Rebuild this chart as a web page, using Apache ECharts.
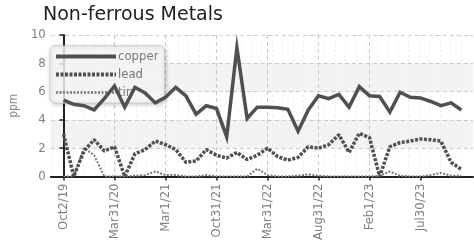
<!DOCTYPE html>
<html>
<head>
<meta charset="utf-8">
<script src="https://cdn.jsdelivr.net/npm/echarts@6/dist/echarts.min.js"></script>
<style>
html,body{margin:0;padding:0;background:#fff;}
#chart{width:474px;height:243px;}
</style>
</head>
<body>
<div id="chart"></div>
<script>
const categories = ['Oct2/19','Nov1/19','Dec1/19','Jan2/20','Feb1/20','Mar31/20','May31/20','Jul31/20','Sep30/20','Dec1/20',
  'Mar1/21','Apr30/21','Jun1/21','Jul31/21','Sep1/21','Oct31/21','Nov30/21','Dec31/21','Jan31/22','Feb28/22',
  'Mar31/22','Apr30/22','May31/22','Jun30/22','Jul31/22','Aug31/22','Sep30/22','Oct31/22','Nov30/22','Dec31/22',
  'Feb1/23','Mar1/23','Apr1/23','May1/23','Jun1/23','Jul30/23','Aug31/23','Sep30/23','Oct31/23','Nov30/23'];
const copper = [5.4,5.1,5.0,4.7,5.5,6.4,4.9,6.3,5.9,5.2,
  5.6,6.3,5.7,4.4,5.0,4.8,2.8,9.1,4.1,4.9,
  4.9,4.85,4.75,3.2,4.7,5.7,5.5,5.8,4.9,6.35,
  5.7,5.65,4.55,5.95,5.6,5.55,5.3,5.0,5.2,4.7];
const lead = [3.0,0.0,1.8,2.6,1.8,2.1,0.0,1.6,1.9,2.5,
  2.25,1.9,1.0,1.1,1.9,1.5,1.3,1.7,1.2,1.5,
  2.0,1.4,1.15,1.35,2.1,2.0,2.25,2.95,1.7,3.05,
  2.75,0.0,2.1,2.4,2.5,2.65,2.6,2.5,1.0,0.5];
const tin = [0,0,2.0,1.5,0,0,0,0.05,0.1,0.35,
  0.1,0.1,0,0,0.1,0,0,0,0,0.55,
  0.1,0,0,0.05,0.15,0.05,0,0,0,0,
  0,0.05,0.35,0.05,0,0,0.1,0.25,0.05,0.05];
const tickLabels = ['Oct2/19','Mar31/20','Mar1/21','Oct31/21','Mar31/22','Aug31/22','Feb1/23','Jul30/23'];
const yTicks = [0,2,4,6,8,10];

const narrow = '"DejaVu Sans Condensed","Liberation Sans Narrow",sans-serif';
const tickIdx = tickLabels.map(t => categories.indexOf(t));
const toPairs = arr => arr.map((v, i) => [i, v]);

const chart = echarts.init(document.getElementById('chart'), null, {renderer: 'canvas'});
chart.setOption({
  animation: false,
  backgroundColor: '#fff',
  title: {
    text: 'Non-ferrous Metals',
    left: 38, top: 1,
    textStyle: {fontFamily: '"DejaVu Sans",sans-serif', fontSize: 19, fontWeight: 'normal', color: '#222'}
  },
  legend: {
    orient: 'vertical',
    left: 50, top: 46,
    itemWidth: 60, itemHeight: 12, itemGap: 5,
    padding: [4, 6, 4, 4],
    backgroundColor: 'rgba(255,255,255,0.8)',
    borderColor: '#ccc', borderWidth: 1, borderRadius: 5,
    shadowBlur: 4, shadowColor: 'rgba(0,0,0,0.25)', shadowOffsetX: 1, shadowOffsetY: 1,
    itemStyle: {opacity: 0},
    textStyle: {fontFamily: narrow, fontSize: 13, color: '#777', padding: [0,0,0,-3]},
    data: [
      {name: 'copper', lineStyle: {width: 4, color: '#505050'}},
      {name: 'lead', lineStyle: {width: 4, color: '#505050', type: [3, 1.5]}},
      {name: 'tin', lineStyle: {width: 2.5, color: '#777', type: [2, 1.5]}}
    ]
  },
  grid: [
    {left: 38.9, right: 1, top: 35, bottom: 63.5, containLabel: false},
    {left: 41.5, right: 2.5, top: 35, bottom: 63.5, containLabel: false}
  ],
  xAxis: [
    {
      type: 'value', gridIndex: 0,
      min: -1.25, max: 40.15, splitNumber: 8,
      axisLine: {show: true, onZero: false, lineStyle: {color: '#222', width: 2}},
      axisTick: {show: true, length: 4, customValues: tickIdx, lineStyle: {color: '#222', width: 1.5}},
      axisLabel: {
        customValues: tickIdx,
        rotate: 90, margin: 7, color: '#808080', fontFamily: narrow, fontSize: 13,
        formatter: v => (Number.isInteger(v) && categories[v] && tickIdx.indexOf(v) >= 0) ? categories[v] : ''
      },
      splitLine: {show: true, showMinLine: false, showMaxLine: false, lineStyle: {color: '#c8c8c8', type: [4, 3], width: 1}}
    },
    {
      type: 'value', gridIndex: 1,
      min: -1, max: 40, interval: 1,
      axisLine: {show: false}, axisTick: {show: false}, axisLabel: {show: false},
      splitLine: {show: true, showMinLine: false, showMaxLine: false, lineStyle: {color: '#ececec', type: [2, 3], width: 1}}
    }
  ],
  yAxis: [
    {
      type: 'value', gridIndex: 0,
      min: 0, max: 10, interval: 2,
      name: 'ppm', nameLocation: 'middle', nameGap: 28, nameRotate: 90,
      nameTextStyle: {color: '#888', fontFamily: narrow, fontSize: 12},
      axisLine: {show: true, lineStyle: {color: '#222', width: 2}},
      axisTick: {show: true, length: 4, lineStyle: {color: '#222', width: 1.5}},
      axisLabel: {margin: 5, color: '#808080', fontFamily: narrow, fontSize: 13},
      splitLine: {show: true, showMinLine: false, lineStyle: {color: '#c8c8c8', type: [4, 3], width: 1}},
      splitArea: {show: true, areaStyle: {color: ['rgba(255,255,255,0)', '#f3f3f3']}}
    },
    {type: 'value', gridIndex: 1, min: 0, max: 10, show: false}
  ],
  series: [
    {
      name: 'copper', type: 'line', xAxisIndex: 0, yAxisIndex: 0,
      data: toPairs(copper), symbol: 'none', z: 4,
      itemStyle: {color: '#505050'},
      lineStyle: {color: '#505050', width: 3.5, join: 'miter'}
    },
    {
      name: 'lead', type: 'line', xAxisIndex: 0, yAxisIndex: 0,
      data: toPairs(lead), symbol: 'none', z: 3,
      itemStyle: {color: '#505050'},
      lineStyle: {color: '#505050', width: 3.5, type: [3, 1.5]}
    },
    {
      name: 'tin', type: 'line', xAxisIndex: 0, yAxisIndex: 0,
      data: toPairs(tin), symbol: 'none', z: 2,
      itemStyle: {color: '#777'},
      lineStyle: {color: '#777', width: 2, type: [2, 1.5]}
    }
  ]
});
</script>
</body>
</html>
